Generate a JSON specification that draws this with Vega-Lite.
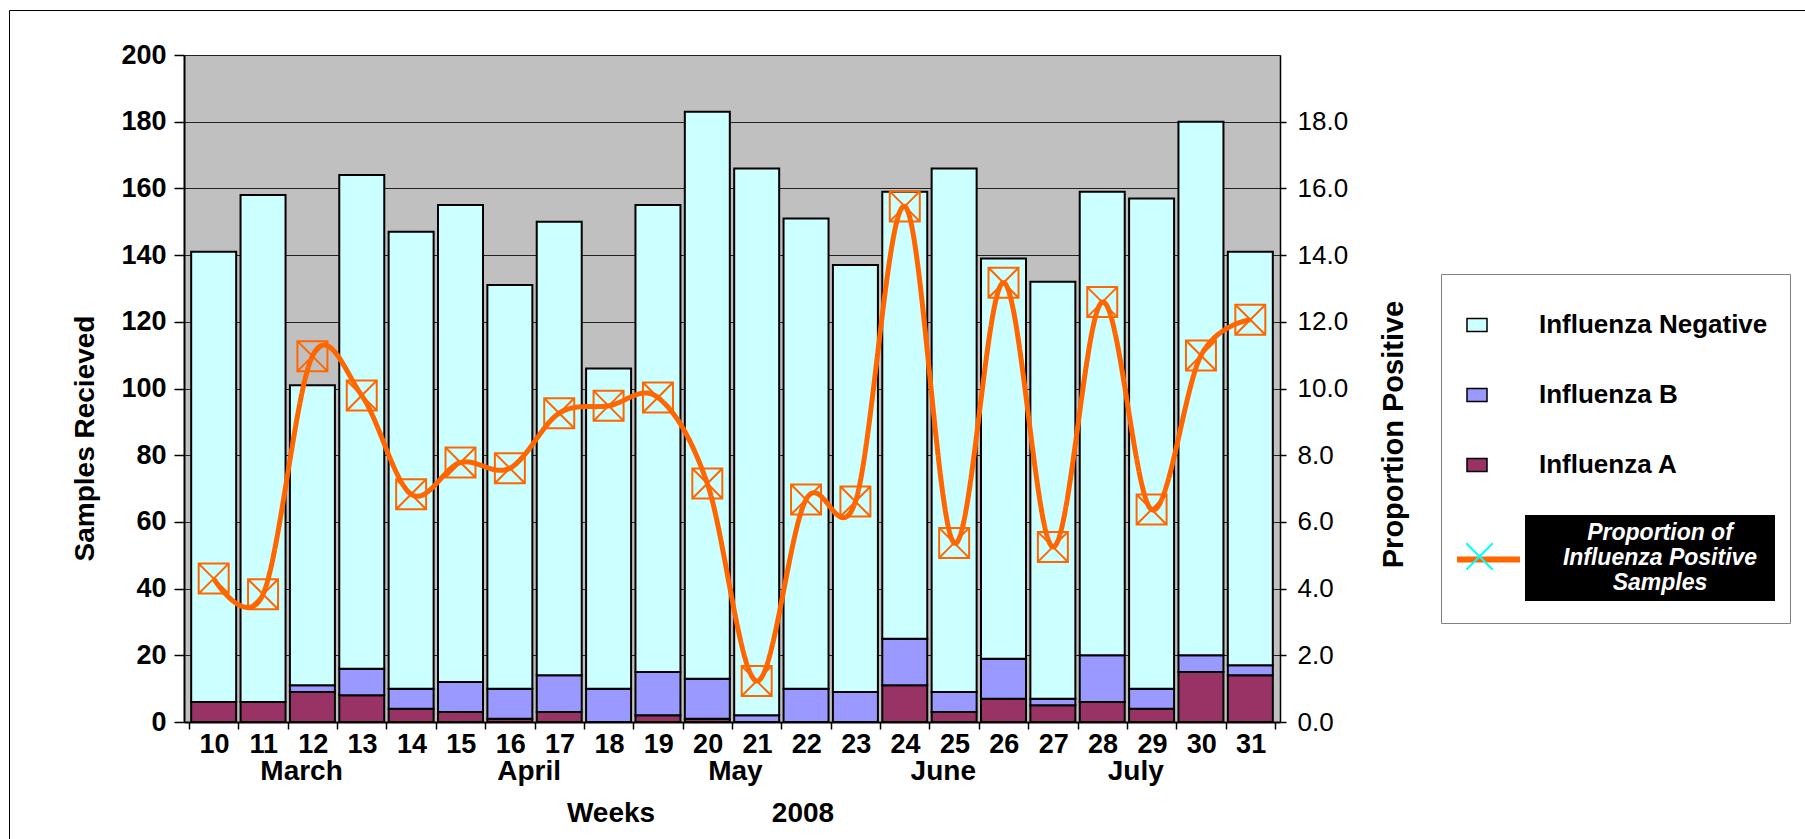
{
  "$schema": "https://vega.github.io/schema/vega-lite/v6.json",
  "autosize": "none",
  "width": 1096,
  "height": 667,
  "padding": {"left": 184, "top": 55, "right": 525, "bottom": 117},
  "background": "white",
  "config": {
    "font": "Liberation Sans",
    "view": {"fill": "#C0C0C0", "stroke": "#808080", "strokeWidth": 1},
    "axis": {"labelFont": "Liberation Sans", "titleFont": "Liberation Sans", "labelColor": "black", "titleColor": "black", "domainColor": "black", "tickColor": "black"},
    "legend": {"labelFont": "Liberation Sans", "titleFont": "Liberation Sans"}
  },
  "datasets": {
    "counts": [
      {"week":10,"type":"Influenza A","count":6},{"week":10,"type":"Influenza B","count":0},{"week":10,"type":"Influenza Negative","count":135},
      {"week":11,"type":"Influenza A","count":6},{"week":11,"type":"Influenza B","count":0},{"week":11,"type":"Influenza Negative","count":152},
      {"week":12,"type":"Influenza A","count":9},{"week":12,"type":"Influenza B","count":2},{"week":12,"type":"Influenza Negative","count":90},
      {"week":13,"type":"Influenza A","count":8},{"week":13,"type":"Influenza B","count":8},{"week":13,"type":"Influenza Negative","count":148},
      {"week":14,"type":"Influenza A","count":4},{"week":14,"type":"Influenza B","count":6},{"week":14,"type":"Influenza Negative","count":137},
      {"week":15,"type":"Influenza A","count":3},{"week":15,"type":"Influenza B","count":9},{"week":15,"type":"Influenza Negative","count":143},
      {"week":16,"type":"Influenza A","count":1},{"week":16,"type":"Influenza B","count":9},{"week":16,"type":"Influenza Negative","count":121},
      {"week":17,"type":"Influenza A","count":3},{"week":17,"type":"Influenza B","count":11},{"week":17,"type":"Influenza Negative","count":136},
      {"week":18,"type":"Influenza A","count":0},{"week":18,"type":"Influenza B","count":10},{"week":18,"type":"Influenza Negative","count":96},
      {"week":19,"type":"Influenza A","count":2},{"week":19,"type":"Influenza B","count":13},{"week":19,"type":"Influenza Negative","count":140},
      {"week":20,"type":"Influenza A","count":1},{"week":20,"type":"Influenza B","count":12},{"week":20,"type":"Influenza Negative","count":170},
      {"week":21,"type":"Influenza A","count":0},{"week":21,"type":"Influenza B","count":2},{"week":21,"type":"Influenza Negative","count":164},
      {"week":22,"type":"Influenza A","count":0},{"week":22,"type":"Influenza B","count":10},{"week":22,"type":"Influenza Negative","count":141},
      {"week":23,"type":"Influenza A","count":0},{"week":23,"type":"Influenza B","count":9},{"week":23,"type":"Influenza Negative","count":128},
      {"week":24,"type":"Influenza A","count":11},{"week":24,"type":"Influenza B","count":14},{"week":24,"type":"Influenza Negative","count":134},
      {"week":25,"type":"Influenza A","count":3},{"week":25,"type":"Influenza B","count":6},{"week":25,"type":"Influenza Negative","count":157},
      {"week":26,"type":"Influenza A","count":7},{"week":26,"type":"Influenza B","count":12},{"week":26,"type":"Influenza Negative","count":120},
      {"week":27,"type":"Influenza A","count":5},{"week":27,"type":"Influenza B","count":2},{"week":27,"type":"Influenza Negative","count":125},
      {"week":28,"type":"Influenza A","count":6},{"week":28,"type":"Influenza B","count":14},{"week":28,"type":"Influenza Negative","count":139},
      {"week":29,"type":"Influenza A","count":4},{"week":29,"type":"Influenza B","count":6},{"week":29,"type":"Influenza Negative","count":147},
      {"week":30,"type":"Influenza A","count":15},{"week":30,"type":"Influenza B","count":5},{"week":30,"type":"Influenza Negative","count":160},
      {"week":31,"type":"Influenza A","count":14},{"week":31,"type":"Influenza B","count":3},{"week":31,"type":"Influenza Negative","count":124}
    ],
    "prop": [
      {"week":10,"prop":4.30},{"week":11,"prop":3.83},{"week":12,"prop":10.97},{"week":13,"prop":9.79},
      {"week":14,"prop":6.83},{"week":15,"prop":7.78},{"week":16,"prop":7.61},{"week":17,"prop":9.26},
      {"week":18,"prop":9.48},{"week":19,"prop":9.73},{"week":20,"prop":7.15},{"week":21,"prop":1.23},
      {"week":22,"prop":6.67},{"week":23,"prop":6.61},{"week":24,"prop":15.46},{"week":25,"prop":5.37},
      {"week":26,"prop":13.17},{"week":27,"prop":5.25},{"week":28,"prop":12.59},{"week":29,"prop":6.37},
      {"week":30,"prop":10.99},{"week":31,"prop":12.06}
    ]
  },
  "layer": [
    {
      "data": {"name": "counts"},
      "mark": {"type": "bar", "size": 45, "stroke": "black"},
      "encoding": {
        "x": {
          "field": "week", "type": "quantitative",
          "scale": {"domain": [9.5, 31.5], "nice": false, "zero": false},
          "axis": {
            "orient": "bottom",
            "values": [9.5,10.5,11.5,12.5,13.5,14.5,15.5,16.5,17.5,18.5,19.5,20.5,21.5,22.5,23.5,24.5,25.5,26.5,27.5,28.5,29.5,30.5,31.5],
            "labelExpr": "datum.value < 31 ? format(datum.value + 0.5, 'd') : ''",
            "labelOffset": 25, "tickSize": 7, "tickWidth": 1.5, "domainWidth": 2,
            "labelFontSize": 27, "labelFontWeight": "bold", "labelPadding": 2,
            "labelOverlap": false, "labelFlush": false, "grid": false,
            "title": "Weeks\u00a0\u00a0\u00a0\u00a0\u00a0\u00a0\u00a0\u00a0\u00a0\u00a0\u00a0\u00a0\u00a0\u00a0\u00a02008",
            "titleFontSize": 28, "titleFontWeight": "bold",
            "titleX": 516, "titleY": 91, "titleBaseline": "middle", "titleAlign": "center"
          }
        },
        "y": {
          "field": "count", "type": "quantitative", "stack": "zero",
          "scale": {"domain": [0, 200], "nice": false},
          "axis": {
            "orient": "left",
            "values": [0,20,40,60,80,100,120,140,160,180,200],
            "grid": true, "gridColor": "#222222", "gridWidth": 1,
            "labelFontSize": 27, "labelFontWeight": "bold", "tickSize": 10, "tickWidth": 1.5,
            "labelPadding": 8, "domainWidth": 2,
            "title": "Samples Recieved", "titleFontSize": 28, "titleFontWeight": "bold",
            "titleAngle": -90, "titleX": -99, "titleY": 383, "titleBaseline": "middle", "titleAlign": "center"
          }
        },
        "order": {"field": "type", "sort": "ascending"},
        "fill": {
          "field": "type", "type": "nominal",
          "scale": {"domain": ["Influenza Negative", "Influenza B", "Influenza A"], "range": ["#CCFFFF", "#9999FF", "#993366"]},
          "legend": {
            "orient": "none", "legendX": 1280, "legendY": 257, "title": null,
            "symbolType": "M-1,-0.65H1V0.65H-1Z", "symbolSize": 400,
            "symbolStrokeColor": "black", "symbolStrokeWidth": 1.5,
            "labelFontSize": 26, "labelFontWeight": "bold", "labelColor": "black",
            "labelOffset": 49, "rowPadding": 44, "labelLimit": 400
          }
        },
        "strokeWidth": {
          "datum": "frame", "type": "nominal",
          "scale": {"type": "ordinal", "range": [2]},
          "legend": {
            "orient": "none", "legendX": 1257, "legendY": 219, "title": null,
            "strokeColor": "#808080", "padding": 171,
            "symbolFillColor": "transparent", "symbolStrokeColor": "transparent", "symbolSize": 4,
            "labelExpr": "'\u00a0'", "labelFontSize": 4, "labelOffset": 0, "labelColor": "transparent"
          }
        }
      }
    },
    {
      "data": {"name": "prop"},
      "encoding": {
        "x": {
          "field": "week", "type": "quantitative",
          "scale": {"domain": [9.5, 31.5], "nice": false, "zero": false},
          "axis": {
            "orient": "bottom",
            "values": [11.77, 16.38, 20.56, 24.77, 28.67],
            "labelExpr": "datum.value < 13 ? 'March' : datum.value < 18 ? 'April' : datum.value < 22 ? 'May' : datum.value < 26 ? 'June' : 'July'",
            "ticks": false, "domain": false, "grid": false,
            "labelFontSize": 28, "labelFontWeight": "bold", "labelPadding": 35,
            "labelOverlap": false, "labelFlush": false, "title": null
          }
        },
        "y": {
          "field": "prop", "type": "quantitative",
          "scale": {"domain": [0, 20], "nice": false},
          "axis": {
            "orient": "right",
            "values": [0,2,4,6,8,10,12,14,16,18],
            "format": ".1f", "grid": false,
            "labelFontSize": 26, "labelFontWeight": "normal", "tickSize": 6, "tickWidth": 1.5,
            "labelPadding": 11, "domainWidth": 1.5,
            "title": "Proportion Positive", "titleFontSize": 29, "titleFontWeight": "bold",
            "titleAngle": -90, "titleX": 113, "titleY": 379, "titleBaseline": "middle", "titleAlign": "center"
          }
        }
      },
      "layer": [
        {
          "mark": {"type": "line", "interpolate": "cardinal", "strokeWidth": 5},
          "encoding": {
            "stroke": {
              "datum": "line", "type": "nominal",
              "scale": {"range": ["#FF6600"]},
              "legend": {
                "orient": "none", "legendX": 1270, "legendY": 470, "title": null,
                "symbolType": "stroke", "symbolSize": 3969, "symbolStrokeWidth": 6,
                "labelExpr": "''", "labelFontSize": 1, "labelOffset": 0
              }
            },
            "strokeDash": {
              "datum": "box", "type": "nominal",
              "scale": {"range": [[1, 0]]},
              "legend": {
                "orient": "none", "legendX": 1341, "legendY": 460,
                "title": "\u00a0", "titleOrient": "right", "titleFontSize": 8, "titlePadding": 12,
                "fillColor": "black", "padding": 6,
                "symbolOpacity": 0, "symbolSize": 4,
                "labelExpr": "['Proportion of', 'Influenza Positive', 'Samples']",
                "labelAlign": "center", "labelOffset": 106, "labelColor": "white",
                "labelFontSize": 23, "labelFontWeight": "bold", "labelFontStyle": "italic", "labelLimit": 400,
                "encode": {"labels": {"update": {"lineHeight": {"value": 26}}}}
              }
            }
          }
        },
        {
          "mark": {"type": "point", "shape": "M-1,-1H1V1H-1Z M-1,-1L1,1 M1,-1L-1,1", "filled": false, "stroke": "#FF6600", "strokeWidth": 2},
          "encoding": {
            "opacity": {
              "datum": "marker", "type": "nominal",
              "scale": {"type": "ordinal", "range": [1]},
              "legend": {
                "orient": "none", "legendX": 1281, "legendY": 487, "title": null,
                "symbolType": "M-1,-1L1,1M-1,1L1,-1", "symbolSize": 700,
                "symbolStrokeColor": "#00FFFF", "symbolStrokeWidth": 2, "symbolFillColor": "transparent",
                "labelExpr": "''", "labelFontSize": 1, "labelOffset": 0
              }
            },
            "size": {
              "datum": "outer", "type": "nominal",
              "scale": {"type": "ordinal", "range": [900]},
              "legend": {
                "orient": "none", "legendX": -175, "legendY": -45, "title": null,
                "strokeColor": "black", "padding": 905,
                "symbolFillColor": "transparent", "symbolStrokeColor": "transparent",
                "labelExpr": "'\u00a0'", "labelFontSize": 4, "labelOffset": 0, "labelColor": "transparent",
                "encode": {"legend": {"update": {"strokeWidth": {"value": 2}}}}
              }
            }
          }
        }
      ]
    }
  ],
  "resolve": {"scale": {"y": "independent"}, "axis": {"x": "independent"}}
}
